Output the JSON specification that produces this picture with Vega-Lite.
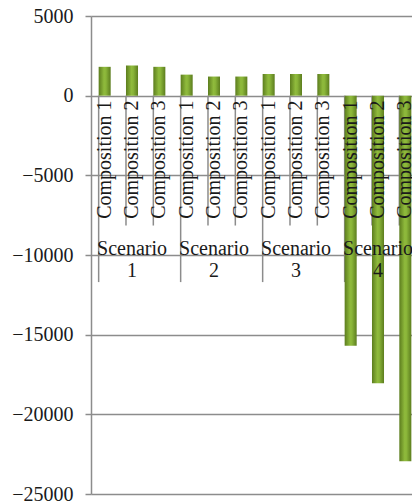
{
  "$schema": "https://vega.github.io/schema/vega-lite/v6.json",
  "width": 321,
  "height": 478,
  "autosize": {"type": "none"},
  "padding": {"left": 91, "top": 16, "right": 0, "bottom": 8},
  "background": "white",
  "config": {"view": {"stroke": null}},
  "data": {
    "values": [
      {"key": "1-1", "scenario": "Scenario 1", "composition": "Composition 1", "value": 1810},
      {"key": "1-2", "scenario": "Scenario 1", "composition": "Composition 2", "value": 1900},
      {"key": "1-3", "scenario": "Scenario 1", "composition": "Composition 3", "value": 1810},
      {"key": "2-1", "scenario": "Scenario 2", "composition": "Composition 1", "value": 1320},
      {"key": "2-2", "scenario": "Scenario 2", "composition": "Composition 2", "value": 1200},
      {"key": "2-3", "scenario": "Scenario 2", "composition": "Composition 3", "value": 1200},
      {"key": "3-1", "scenario": "Scenario 3", "composition": "Composition 1", "value": 1360},
      {"key": "3-2", "scenario": "Scenario 3", "composition": "Composition 2", "value": 1360},
      {"key": "3-3", "scenario": "Scenario 3", "composition": "Composition 3", "value": 1360},
      {"key": "4-1", "scenario": "Scenario 4", "composition": "Composition 1", "value": -15700},
      {"key": "4-2", "scenario": "Scenario 4", "composition": "Composition 2", "value": -18050},
      {"key": "4-3", "scenario": "Scenario 4", "composition": "Composition 3", "value": -22950}
    ]
  },
  "encoding": {
    "x": {
      "field": "key",
      "type": "nominal",
      "sort": "ascending",
      "axis": null,
      "scale": {"domain": ["1-1", "1-2", "1-3", "2-1", "2-2", "2-3", "3-1", "3-2", "3-3", "4-1", "4-2", "4-3"], "range": [0, 328], "paddingInner": 0.56, "paddingOuter": 0.28}
    }
  },
  "layer": [
    {
      "transform": [{"filter": "datum.composition != 'Composition 1'"}],
      "mark": {"type": "rule", "color": "#8c8c8c", "strokeWidth": 1.5},
      "encoding": {
        "x": {"field": "key", "type": "nominal", "sort": "ascending", "bandPosition": 0},
        "y": {"datum": 0},
        "y2": {"datum": -8150}
      }
    },
    {
      "transform": [{"filter": "datum.composition == 'Composition 1'"}],
      "mark": {"type": "rule", "color": "#8c8c8c", "strokeWidth": 1.5},
      "encoding": {
        "x": {"field": "key", "type": "nominal", "sort": "ascending", "bandPosition": 0},
        "y": {"datum": 0},
        "y2": {"datum": -11700}
      }
    },
    {
      "mark": {
        "type": "bar",
        "color": {
          "gradient": "linear",
          "x1": 0, "y1": 0, "x2": 1, "y2": 0,
          "stops": [
            {"offset": 0, "color": "#5c7d1e"},
            {"offset": 0.45, "color": "#8fba3c"},
            {"offset": 0.6, "color": "#8ab539"},
            {"offset": 1, "color": "#5c7d1e"}
          ]
        }
      },
      "encoding": {
        "y": {
          "field": "value",
          "type": "quantitative",
          "scale": {"domain": [-25000, 5000], "nice": false},
          "axis": {
            "title": null,
            "values": [-25000, -20000, -15000, -10000, -5000, 0, 5000],
            "format": "d",
            "grid": true,
            "gridColor": "#8c8c8c",
            "gridWidth": 1.5,
            "domainColor": "#8c8c8c",
            "domainWidth": 1.5,
            "tickColor": "#8c8c8c",
            "tickWidth": 1.5,
            "tickSize": 6,
            "labelPadding": 12,
            "labelFont": "Liberation Serif, Times New Roman, serif",
            "labelFontSize": 20,
            "labelColor": "#1a1a1a"
          }
        }
      }
    },
    {
      "mark": {
        "type": "text",
        "angle": 270,
        "align": "right",
        "baseline": "middle",
        "font": "Liberation Serif, Times New Roman, serif",
        "fontSize": 20,
        "color": "#1a1a1a"
      },
      "encoding": {
        "y": {"datum": -300},
        "text": {"field": "composition"}
      }
    },
    {
      "transform": [{"filter": "datum.composition == 'Composition 2'"}],
      "mark": {
        "type": "text",
        "align": "center",
        "baseline": "top",
        "lineBreak": " ",
        "lineHeight": 22,
        "font": "Liberation Serif, Times New Roman, serif",
        "fontSize": 20,
        "color": "#1a1a1a"
      },
      "encoding": {
        "y": {"datum": -9000},
        "text": {"field": "scenario"}
      }
    }
  ]
}
